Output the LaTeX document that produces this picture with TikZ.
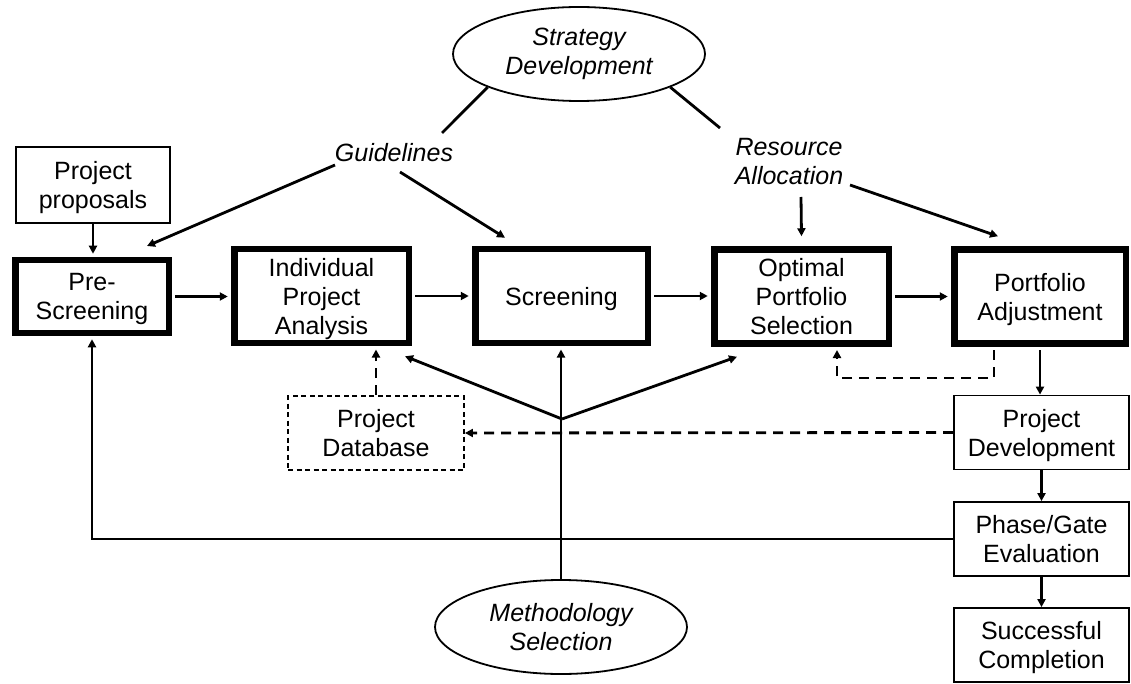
\documentclass[tikz,border=0pt]{standalone}
\usepackage{fontspec}
\setmainfont{Liberation Sans}
\usetikzlibrary{arrows.meta,shapes.geometric,calc}
\begin{document}
\begin{tikzpicture}[x=1pt,y=-1pt,
  every node/.style={font=\fontsize{25}{29}\selectfont, align=center, inner sep=0pt},
  bigbox/.style={draw, line width=6.5pt, minimum height=94pt, text depth=0pt},
  thinbox/.style={draw, line width=1.8pt, minimum width=175pt, minimum height=74pt, text depth=0pt},
  dbbox/.style={draw, line width=1.8pt, dash pattern=on 5pt off 3.5pt, minimum width=176pt, minimum height=74pt, text depth=0pt},
  oval/.style={draw, ellipse, line width=1.8pt, minimum width=252pt, minimum height=94pt,
    font=\fontsize{25}{29}\selectfont\itshape},
  inputlabel/.style={font=\fontsize{25}{29}\selectfont\itshape},
  link/.style={line width=2.8pt},
  flow/.style={line width=2.8pt, -{Triangle[length=8pt,width=8pt]}},
  dflow/.style={flow, dash pattern=on 10pt off 7pt}]
\useasboundingbox (0,0) rectangle (1131,684);

% main stages
\node[bigbox, minimum width=153.5pt, minimum height=72.5pt] (pre) at (92,296.5) {Pre-\\Screening};
\node[bigbox, minimum width=174.5pt] (ipa) at (321.5,296) {Individual\\Project\\Analysis};
\node[bigbox, minimum width=172.5pt] (scr) at (561.5,296) {Screening};
\node[bigbox, minimum width=174.5pt] (opt) at (801.5,296.5) {Optimal\\Portfolio\\Selection};
\node[bigbox, minimum width=171.5pt] (adj) at (1040,296.5) {Portfolio\\Adjustment};

% supporting boxes
\node[thinbox, minimum width=154pt, minimum height=76pt] (pp) at (93,185) {Project\\proposals};
\node[dbbox] (db) at (376,433) {Project\\Database};
\node[thinbox] (pd) at (1041.5,432.5) {Project\\Development};
\node[thinbox] (pge) at (1041.5,539) {Phase/Gate\\Evaluation};
\node[thinbox] (sc) at (1041.5,645) {Successful\\Completion};

% strategy and methodology
\node[oval] (strat) at (579,54) {Strategy\\Development};
\node[oval] (meth) at (561,627) {Methodology\\Selection};
\node[inputlabel] (guide) at (394,153) {Guidelines};
\node[inputlabel] (res) at (789,162) {Resource\\Allocation};

% strategy feeds
\draw[link] (strat.200) -- ($(guide.center)+(48,-20)$);
\draw[link] (strat.340) -- ($(res.center)+(-69,-34)$);
\draw[flow] ($(guide.center)+(-59,12)$) -- ($(pre.north)+(55,-11)$);
\draw[flow] ($(guide.center)+(6,19)$) -- ($(scr.north)+(-56.5,-8)$);
\draw[flow] ($(res.center)+(12,35)$) -- ($(opt.north)+(0,-10)$);
\draw[flow] ($(res.center)+(61,23)$) -- ($(adj.north)+(-42,-10)$);

% main flow
\draw[flow, shorten >=3.25pt] (pp.south) -- (pp.south |- pre.north);
\draw[flow, shorten <=3.25pt, shorten >=3.25pt] (pre.east) -- (pre.east -| ipa.west);
\draw[flow, shorten <=3.25pt, shorten >=3.25pt] (ipa.east) -- (ipa.east -| scr.west);
\draw[flow, shorten <=3.25pt, shorten >=3.25pt] (scr.east) -- (scr.east -| opt.west);
\draw[flow, shorten <=3.25pt, shorten >=3.25pt] (opt.east) -- (opt.east -| adj.west);
\draw[flow, shorten <=3.25pt] (adj.south) -- (adj.south |- pd.north);
\draw[flow] (pd.south) -- (pge.north);
\draw[flow] (pge.south) -- (sc.north);
\draw[flow, shorten >=3.25pt] (pge.west) -| (pre.south);

% methodology inputs
\coordinate (br) at (562,419);
\draw[flow, shorten >=3.25pt] (meth.north) -- (meth.north |- scr.south);
\draw[flow] (br) -- ($(ipa.south east)+(-7,10)$);
\draw[flow] (br) -- ($(opt.south west)+(26,10)$);

% information feedback
\draw[dflow, shorten >=3.25pt] (db.north) -- (db.north |- ipa.south);
\draw[dflow] (pd.west) -- (db.east);
\draw[dflow] ($(adj.south)+(-46,3.25)$) -- ++(0,28) -| ($(opt.south)+(35.5,3.25)$);
\end{tikzpicture}
\end{document}
